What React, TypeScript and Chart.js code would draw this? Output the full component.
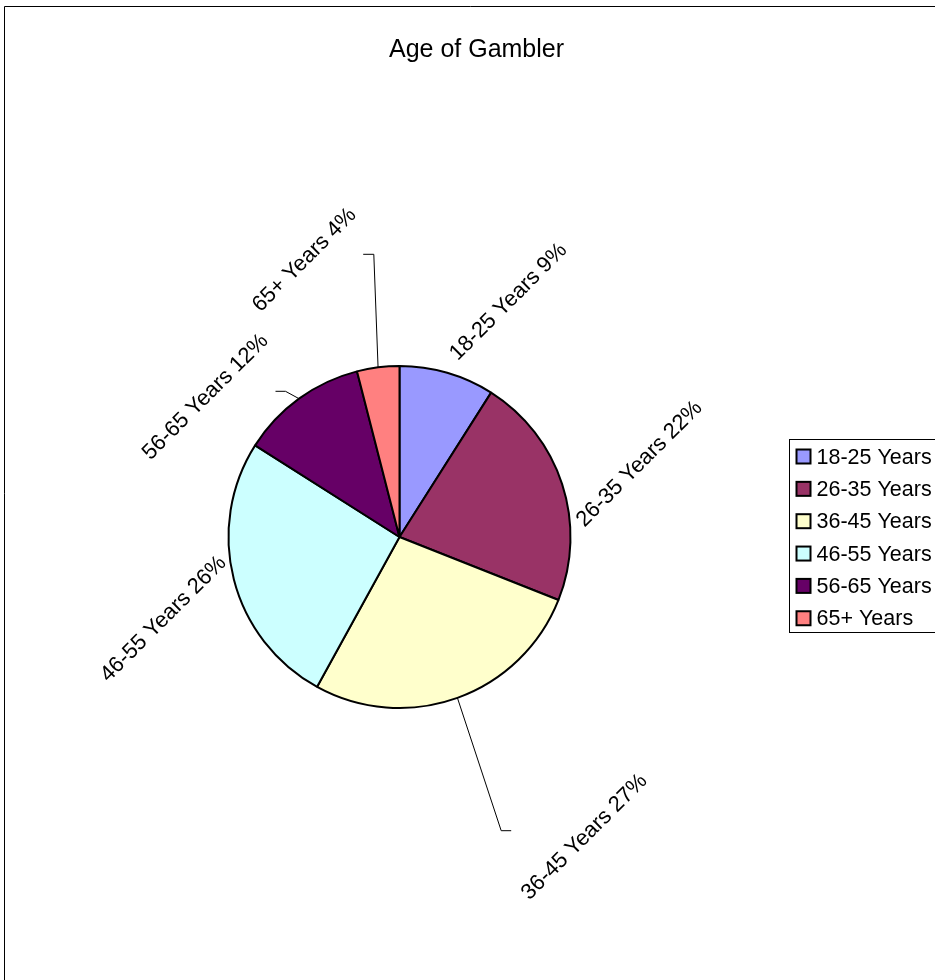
import React, { useEffect, useRef } from "react";
import { Chart, registerables } from "chart.js";

Chart.register(...registerables);

const TITLE = "Age of Gambler";
const CATEGORIES = ["18-25 Years", "26-35 Years", "36-45 Years", "46-55 Years", "56-65 Years", "65+ Years"];
const SHARES = [9, 22, 27, 26, 12, 4];
const COLORS = ["#9999FF", "#993366", "#FFFFCC", "#CCFFFF", "#660066", "#FF8080"];

// layout: data label centres relative to the pie centre (manually placed labels)
const LABEL_OFFSETS: number[][] = [
  [109, -235],
  [240, -73],
  [185, 300],
  [-236, 82],
  [-194, -140],
  [-95, -277],
];
// layout: leader line bend/end points relative to the pie centre
const LEADERS: (number[][] | null)[] = [
  null,
  null,
  [[101.7, 293.7], [111.7, 293.7]],
  null,
  [[-114, -145.7], [-124, -145.7]],
  [[-25.7, -282.7], [-36.3, -282.7]],
];

const FONT = "'Liberation Sans', Arial, sans-serif";

const decor = {
  id: "decor",
  afterDatasetsDraw(chart: any) {
    const ctx: CanvasRenderingContext2D = chart.ctx;
    const meta = chart.getDatasetMeta(0);
    const arcs = meta.data;
    const values: number[] = chart.data.datasets[0].data;
    const labels: string[] = chart.data.labels;
    const colors: string[] = chart.data.datasets[0].backgroundColor;
    const total = values.reduce((a, b) => a + b, 0);
    ctx.save();

    // outer frame (extends past the window on right and bottom)
    ctx.strokeStyle = "#000";
    ctx.lineWidth = 1;
    ctx.beginPath();
    ctx.moveTo(4.5, 1000);
    ctx.lineTo(4.5, 6.5);
    ctx.lineTo(1000, 6.5);
    ctx.stroke();

    // title
    ctx.fillStyle = "#000";
    ctx.font = `25px ${FONT}`;
    ctx.textAlign = "center";
    ctx.textBaseline = "alphabetic";
    ctx.fillText(TITLE, 476.5, 57);

    // leader lines
    ctx.strokeStyle = "#000";
    ctx.lineWidth = 1;
    arcs.forEach((arc: any, i: number) => {
      const leader = LEADERS[i];
      if (!leader) return;
      const p = arc.getProps(["x", "y", "startAngle", "endAngle", "outerRadius"], true);
      const mid = (p.startAngle + p.endAngle) / 2;
      const sx = p.x + p.outerRadius * Math.cos(mid);
      const sy = p.y + p.outerRadius * Math.sin(mid);
      ctx.beginPath();
      ctx.moveTo(sx, sy);
      leader.forEach((pt) => ctx.lineTo(p.x + pt[0], p.y + pt[1]));
      ctx.stroke();
    });

    // data labels, rotated 45 degrees
    ctx.font = `22px ${FONT}`;
    ctx.textAlign = "center";
    ctx.textBaseline = "middle";
    ctx.fillStyle = "#000";
    arcs.forEach((arc: any, i: number) => {
      const p = arc.getProps(["x", "y"], true);
      const pct = Math.round((values[i] / total) * 100);
      const [dx, dy] = LABEL_OFFSETS[i];
      ctx.save();
      ctx.translate(p.x + dx, p.y + dy);
      ctx.rotate(-Math.PI / 4);
      ctx.fillText(`${labels[i]} ${pct}%`, 0, 0);
      ctx.restore();
    });

    // legend
    ctx.strokeStyle = "#000";
    ctx.lineWidth = 1;
    ctx.strokeRect(789.5, 439.5, 300, 193);
    ctx.font = `21.5px ${FONT}`;
    ctx.textAlign = "left";
    ctx.textBaseline = "alphabetic";
    labels.forEach((lab, i) => {
      const top = 449.5 + i * 32.35;
      ctx.fillStyle = colors[i];
      ctx.fillRect(796.5, top, 14, 14);
      ctx.lineWidth = 2;
      ctx.strokeStyle = "#000";
      ctx.strokeRect(796.5, top, 14, 14);
      ctx.fillStyle = "#000";
      ctx.fillText(lab, 816.5, top + 14);
    });

    ctx.restore();
  },
};

export default function App() {
  const ref = useRef<HTMLCanvasElement | null>(null);
  useEffect(() => {
    if (!ref.current) return;
    const chart = new Chart(ref.current, {
      type: "pie",
      data: {
        labels: CATEGORIES,
        datasets: [
          {
            data: SHARES,
            backgroundColor: COLORS,
            borderColor: "#000",
            borderWidth: 2,
          },
        ],
      },
      options: {
        responsive: false,
        animation: false,
        events: [],
        radius: 171,
        layout: { padding: { left: 200, right: 336, top: 350, bottom: 256 } },
        plugins: {
          legend: { display: false },
          title: { display: false },
          tooltip: { enabled: false },
        },
      } as any,
      plugins: [decor],
    });
    return () => chart.destroy();
  }, []);
  return (
    <div style={{ position: "fixed", left: 0, top: 0, width: 935, height: 980, background: "#fff" }}>
      <canvas ref={ref} width={935} height={980} style={{ display: "block" }} />
    </div>
  );
}
